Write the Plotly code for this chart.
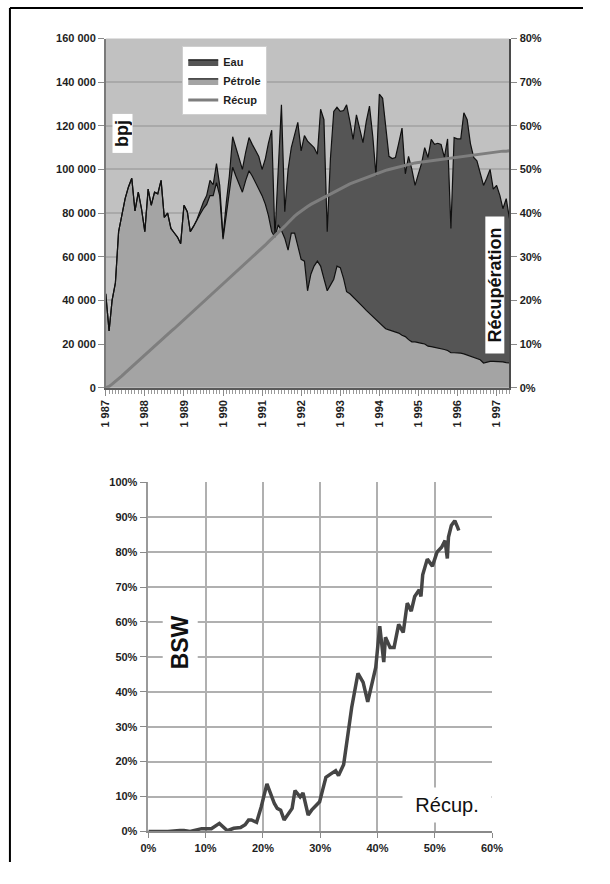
import pandas as pd
import plotly.graph_objects as go

# ---------------- data ----------------
months = pd.date_range("1987-01-01", periods=125, freq="MS")

# total liquid rate (oil + water), bpj
liquid_total = [
    43000, 26000, 40000, 48000, 71500, 79000, 86600, 92000, 96000, 81000, 89600, 82000,
    71500, 91000, 83600, 89600, 88800, 95000, 78000, 80000, 73000, 71000, 69000, 66000,
    83600, 80600, 71500, 74000, 77000, 81000, 85000, 88000, 95000, 93000, 102700, 92700,
    69000, 85000, 97000, 115000, 110000, 106000, 100000, 108000, 114600, 111500, 109000, 106000,
    100000, 105000, 112000, 118000, 69000, 100000, 129600, 80600, 100000, 110000, 116000, 121600,
    108500, 115500, 113000, 111500, 110000, 107000, 127600, 122800, 71500, 105000, 126600, 128500,
    126600, 127000, 129600, 122000, 113800, 125000, 118000, 112300, 122000, 129000, 115000, 97000,
    134500, 132600, 120000, 106000, 105000, 105500, 112000, 119000, 98000, 106000, 100000, 92700,
    98000, 103000, 110000, 105500, 113800, 111500, 112000, 111500, 105500, 114000, 73000, 114600,
    114000, 114000, 126000, 122800, 112000, 105500, 104000, 98000, 92700, 96000, 100000, 91000,
    92700, 88000, 82000, 86600, 77600,
]

# oil rate, bpj
oil = [
    43000, 26000, 40000, 48000, 71500, 79000, 86600, 92000, 96000, 81000, 89600, 82000,
    71500, 91000, 83600, 89600, 88800, 95000, 78000, 80000, 73000, 71000, 69000, 66000,
    83600, 80600, 71500, 74000, 77000, 79500, 82000, 84000, 88000, 88000, 94000, 88000,
    68000, 80000, 90000, 101000, 97000, 93000, 89600, 95000, 99400, 97000, 94000, 91000,
    88000, 84000, 79000, 71500, 69000, 74600, 72000, 68500, 63000, 70800, 70800, 65000,
    58800, 58000, 44400, 52000, 55700, 58000, 55700, 50000, 44400, 47000, 49700, 55700,
    55000, 50000, 44000, 43000, 41400, 40000, 38500, 37000, 35400, 34000, 32500, 30900,
    29500, 28000, 27000, 26500, 26000, 25600, 25000, 24000, 23400, 22000, 21000, 21000,
    20500, 20300, 20000, 19000, 18800, 18500, 18200, 18000, 17500, 17000, 16000, 16000,
    16000, 15800, 15500, 15000, 14300, 14000, 13500, 12800, 11300, 11800, 12000, 12000,
    12000, 12000, 11800, 11500, 11300,
]

# cumulative recovery, %
recovery_pct = [
    0.0, 0.3, 0.8, 1.4, 2.0, 2.7, 3.4, 4.1, 4.8, 5.5, 6.2, 6.8,
    7.5, 8.2, 8.9, 9.5, 10.2, 10.9, 11.5, 12.2, 12.9, 13.5, 14.2, 14.9,
    15.6, 16.2, 16.9, 17.6, 18.3, 18.9, 19.6, 20.3, 21.0, 21.6, 22.3, 23.0,
    23.6, 24.3, 25.0, 25.7, 26.4, 27.1, 27.8, 28.5, 29.2, 29.9, 30.6, 31.3,
    32.0, 32.7, 33.4, 34.1, 34.8, 35.5, 36.2, 37.0, 37.8, 38.6, 39.3, 39.9,
    40.5, 41.0, 41.5, 42.0, 42.4, 42.8, 43.2, 43.6, 44.0, 44.4, 44.8, 45.2,
    45.6, 46.0, 46.4, 46.7, 47.0, 47.3, 47.6, 47.9, 48.2, 48.5, 48.8, 49.1,
    49.4, 49.6, 49.8, 50.0, 50.2, 50.4, 50.6, 50.8, 51.0, 51.2, 51.3, 51.5,
    51.6, 51.7, 51.9, 52.0, 52.1, 52.2, 52.3, 52.4, 52.5, 52.6, 52.7, 52.8,
    52.9, 53.0, 53.1, 53.2, 53.3, 53.4, 53.5, 53.6, 53.7, 53.8, 53.9, 54.0,
    54.0, 54.1, 54.2, 54.2, 54.3,
]

year_ticks = ["1987-01-01", "1988-01-01", "1989-01-01", "1990-01-01", "1991-01-01", "1992-01-01",
              "1993-01-01", "1994-01-01", "1995-01-01", "1996-01-01", "1997-01-01"]
year_labels = ["1 987", "1 988", "1 989", "1 990", "1 991", "1 992",
               "1 993", "1 994", "1 995", "1 996", "1 997"]
rate_ticks = [0, 20000, 40000, 60000, 80000, 100000, 120000, 140000, 160000]
rate_labels = ["0", "20 000", "40 000", "60 000", "80 000", "100 000", "120 000", "140 000", "160 000"]

# water cut (BSW) against recovery
bsw_recup = [
    0.0, 3.4, 5.5, 6.2, 7.3, 8.5, 9.3, 11.0, 12.4, 13.8, 14.9, 16.1, 16.9, 17.5, 18.0, 18.9,
    19.7, 20.7, 21.4, 22.0, 22.5, 23.1, 23.7, 24.5, 25.1, 25.6, 26.5, 27.0, 27.9, 28.5, 29.0,
    29.9, 30.4, 31.0, 31.8, 32.7, 33.2, 34.1, 34.9, 35.5, 36.6, 37.5, 38.3, 39.1, 39.7, 40.4,
    41.1, 41.4, 42.2, 42.9, 43.7, 44.5, 45.2, 45.9, 46.5, 47.3, 47.6, 47.9, 48.7, 49.6, 50.4,
    51.2, 51.8, 52.2, 52.4, 52.9, 53.5, 54.0, 54.2,
]
bsw_pct = [
    0.0, 0.0, 0.3, 0.3, 0.0, 0.5, 0.8, 0.8, 2.3, 0.2, 0.9, 1.1, 1.9, 3.3, 3.3, 2.6,
    7.0, 13.6, 10.3, 8.0, 6.6, 6.1, 3.3, 5.2, 6.6, 11.7, 9.9, 11.0, 4.7, 6.1, 7.0,
    8.5, 11.7, 15.5, 16.4, 17.4, 16.0, 19.2, 28.5, 35.5, 45.3, 42.7, 37.1, 42.5, 47.0, 58.8,
    48.5, 55.6, 52.7, 52.7, 59.3, 57.0, 65.4, 63.1, 67.3, 69.2, 67.3, 73.5, 78.0, 76.0, 80.0,
    81.4, 83.3, 78.2, 84.3, 87.6, 89.0, 87.1, 86.2,
]

water = [t - o for t, o in zip(liquid_total, oil)]

# ---------------- figure ----------------
# the page body keeps its default 8 px margin, so the figure is sized to fit inside it
PAGE_W, PAGE_H, BODY_MARGIN = 610, 884, 8
W, H = PAGE_W - 2 * BODY_MARGIN, PAGE_H - 2 * BODY_MARGIN


def px_x(v):
    return (v - BODY_MARGIN) / W


def px_y(v):
    return 1 - (v - BODY_MARGIN) / H


FONT = "Liberation Sans, Arial, sans-serif"
tick_font = dict(family=FONT, size=11, color="#1e1e1e", weight="bold")

fig = go.Figure()

fig.add_trace(go.Scatter(
    x=months, y=oil, name="Pétrole", stackgroup="liq", mode="lines",
    line=dict(color="#101010", width=1.2), fillcolor="#a4a4a4", legendrank=2,
))
fig.add_trace(go.Scatter(
    x=months, y=water, name="Eau", stackgroup="liq", mode="lines",
    line=dict(color="#101010", width=1.2), fillcolor="#555555", legendrank=1,
))
fig.add_trace(go.Scatter(
    x=months, y=recovery_pct, name="Récup", mode="lines", yaxis="y2",
    line=dict(color="#7e7e7e", width=3), legendrank=3,
))
fig.add_trace(go.Scatter(
    x=bsw_recup, y=bsw_pct, mode="lines", xaxis="x3", yaxis="y3",
    line=dict(color="#454545", width=3.5), showlegend=False,
))

top_dom_x = [px_x(109), px_x(526)]
top_dom_y = [px_y(395), px_y(41)]
bot_dom_x = [px_x(153), px_x(508)]
bot_dom_y = [px_y(845), px_y(491)]

fig.update_layout(
    width=W, height=H, autosize=False,
    margin=dict(l=0, r=0, t=0, b=0),
    paper_bgcolor="white", plot_bgcolor="white",
    font=dict(family=FONT, size=11, color="#1e1e1e"),
    xaxis=dict(
        domain=top_dom_x, anchor="y", type="date",
        range=[months[0], months[-1]],
        tickmode="array", tickvals=year_ticks, ticktext=year_labels,
        tickangle=-90, tickfont=tick_font,
        ticks="outside", ticklen=6, tickcolor="#8a8a8a",
        minor=dict(dtick="M1", ticks="outside", ticklen=4, tickcolor="#9a9a9a", showgrid=False),
        showgrid=False, showline=True, linecolor="#5a5a5a", linewidth=2,
        zeroline=False,
    ),
    yaxis=dict(
        domain=top_dom_y, anchor="x", range=[0, 160000],
        tickmode="array", tickvals=rate_ticks, ticktext=rate_labels,
        tickfont=tick_font, ticks="outside", ticklen=6, tickcolor="#8a8a8a",
        showgrid=True, gridcolor="#a9a9a9", gridwidth=1.5,
        showline=True, linecolor="#7a7a7a", linewidth=1.5, zeroline=False,
    ),
    yaxis2=dict(
        overlaying="y", anchor="x", side="right", range=[0, 80],
        tickmode="linear", tick0=0, dtick=10, ticksuffix="%",
        tickfont=tick_font, ticks="outside", ticklen=6, tickcolor="#8a8a8a",
        showgrid=False, showline=True, linecolor="#4a4a4a", linewidth=2, zeroline=False,
    ),
    xaxis3=dict(
        domain=bot_dom_x, anchor="y3", range=[0, 60],
        tickmode="linear", tick0=0, dtick=10, ticksuffix="%",
        tickfont=tick_font, ticks="outside", ticklen=5, tickcolor="#8a8a8a",
        showgrid=True, gridcolor="#b0b0b0", gridwidth=1.5,
        showline=True, linecolor="#8a8a8a", linewidth=2, zeroline=False,
    ),
    yaxis3=dict(
        domain=bot_dom_y, anchor="x3", range=[0, 100],
        tickmode="linear", tick0=0, dtick=10, ticksuffix="%",
        tickfont=tick_font, ticks="outside", ticklen=7, tickcolor="#8a8a8a",
        showgrid=True, gridcolor="#b0b0b0", gridwidth=1.5,
        showline=True, linecolor="#9a9a9a", linewidth=1.5, zeroline=False,
    ),
    legend=dict(
        x=px_x(188), y=px_y(49), xanchor="left", yanchor="top",
        bgcolor="white", bordercolor="#cfcfcf", borderwidth=1,
        font=dict(family=FONT, size=11, color="#1e1e1e", weight="bold"),
        tracegroupgap=0, traceorder="normal",
    ),
    showlegend=True,
)

# grey backdrop of the production plot
fig.add_shape(type="rect", xref="x domain", yref="y domain", x0=0, x1=1, y0=0, y1=1,
              fillcolor="#c1c1c1", line=dict(width=0), layer="below")

# page frame
fig.add_shape(type="line", xref="paper", yref="paper", x0=px_x(10), x1=1, y0=px_y(10), y1=px_y(10),
              line=dict(color="black", width=2))
fig.add_shape(type="line", xref="paper", yref="paper", x0=px_x(10), x1=px_x(10), y0=0, y1=px_y(10),
              line=dict(color="black", width=2))

# boxed labels
box_labels = [
    dict(text="bpj", x=126.5, y=137.5, angle=-90, size=18, bold=True, w=38, h=19),
    dict(text="Récupération", x=511, y=291, angle=-90, size=18, bold=True, w=136, h=18),
    dict(text="BSW", x=186, y=653, angle=-90, size=23, bold=True, w=62, h=34),
    dict(text="Récup.", x=461, y=818, angle=0, size=20, bold=False, w=88, h=34),
]
for b in box_labels:
    fig.add_annotation(
        xref="paper", yref="paper", x=px_x(b["x"]), y=px_y(b["y"]),
        xanchor="center", yanchor="middle",
        text=b["text"], textangle=b["angle"], showarrow=False,
        font=dict(family=FONT, size=b["size"], color="#111",
                  weight="bold" if b["bold"] else "normal"),
        bgcolor="white", width=b["w"], height=b["h"], borderpad=0,
    )

fig.write_html("out.html")
